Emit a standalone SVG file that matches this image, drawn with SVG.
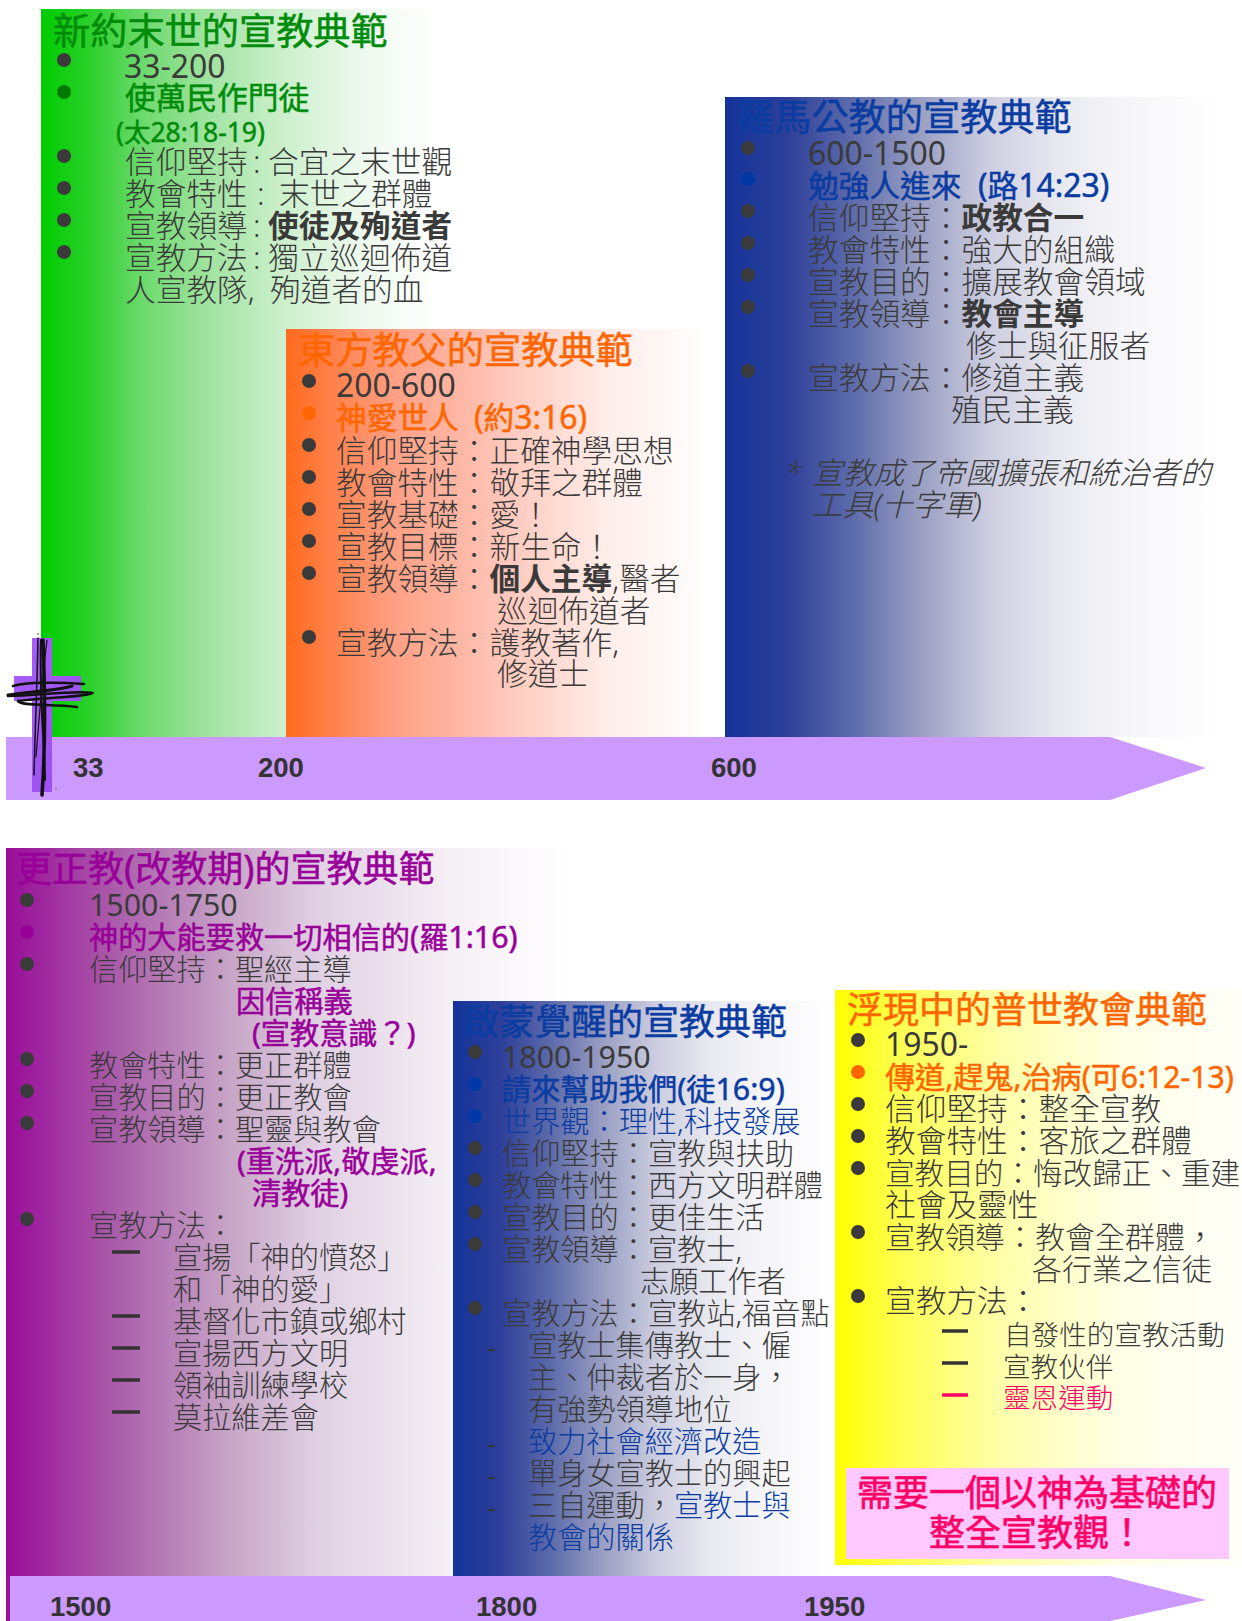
<svg xmlns="http://www.w3.org/2000/svg" width="1242" height="1621" viewBox="0 0 1242 1621">
<style>
text{font-family:"Noto Sans","Noto Sans CJK TC",sans-serif;font-size:30.7px;font-weight:300;fill:#3a3a3a;stroke-width:0}
.t{font-size:37.2px;font-weight:400;stroke-width:.5px}
.t2{font-size:36px}
.f{font-size:29.2px}
.y{font-size:30px}
.l{font-size:1.04em}
.w{font-weight:400}
.m{font-weight:400;stroke-width:.5px}
.b{font-weight:700;stroke-width:0}
.g{fill:#008c0a;stroke:#008c0a}.o{fill:#ff6600;stroke:#ff6600}.n{fill:#0a3ca2;stroke:#0a3ca2}.p{fill:#990099;stroke:#990099}.r{fill:#ff0066;stroke:#ff0066}
.ax{font-family:"Liberation Sans",Arial,sans-serif;font-size:27.5px;font-weight:700;fill:#333}
.s{font-size:27.6px}
.pk{font-size:36px;font-weight:400;fill:#ff0066;stroke:#ff0066;stroke-width:.6px;text-anchor:middle}
.d{stroke:#333;stroke-width:3.5}
.sc{fill:none;stroke:#111;stroke-linecap:round}
</style>
<defs>
<linearGradient id="gG" x1="0" y1="0" x2="1" y2="0"><stop offset="0" stop-color="#00cc00"/><stop offset=".12" stop-color="#2ad02a"/><stop offset=".26" stop-color="#6fda6f"/><stop offset=".43" stop-color="#a4e4a4"/><stop offset=".61" stop-color="#cdf0cd"/><stop offset=".8" stop-color="#eef9ee"/><stop offset="1" stop-color="#fff"/></linearGradient>
<linearGradient id="gO" x1="0" y1="0" x2="1" y2="0"><stop offset="0" stop-color="#ff6a1c"/><stop offset=".08" stop-color="#ff7b40"/><stop offset=".26" stop-color="#ffa085"/><stop offset=".52" stop-color="#ffc8bc"/><stop offset=".76" stop-color="#ffeeea"/><stop offset="1" stop-color="#fff"/></linearGradient>
<linearGradient id="gB" x1="0" y1="0" x2="1" y2="0"><stop offset="0" stop-color="#133399"/><stop offset=".125" stop-color="#2d3f9a"/><stop offset=".26" stop-color="#5e6cab"/><stop offset=".395" stop-color="#9a9fc3"/><stop offset=".53" stop-color="#cccde0"/><stop offset=".665" stop-color="#e7e7ef"/><stop offset=".8" stop-color="#f5f5f9"/><stop offset="1" stop-color="#fff"/></linearGradient>
<linearGradient id="gP" x1="0" y1="0" x2="1" y2="0"><stop offset="0" stop-color="#990c99"/><stop offset=".2" stop-color="#ab5fab"/><stop offset=".41" stop-color="#c9a9c9"/><stop offset=".55" stop-color="#e0d0e3"/><stop offset=".79" stop-color="#f5f0f5"/><stop offset="1" stop-color="#fff"/></linearGradient>
<linearGradient id="gY" x1="0" y1="0" x2="1" y2="0"><stop offset="0" stop-color="#ffff00"/><stop offset=".15" stop-color="#ffff4d"/><stop offset=".4" stop-color="#ffffa8"/><stop offset=".7" stop-color="#ffffe6"/><stop offset="1" stop-color="#fffff8"/></linearGradient>
<linearGradient id="gC" x1="0" y1="0" x2="1" y2="1"><stop offset="0" stop-color="#a85ff8"/><stop offset="1" stop-color="#9b4cf0"/></linearGradient>
</defs>

<g id="panel-purple">
<rect x="6" y="848" width="564" height="773" fill="url(#gP)"/>
<text class="t t2 p" x="16" y="882">更正教<tspan class="l">(</tspan>改教期<tspan class="l">)</tspan>的宣教典範</text>
<g transform="translate(-1 -1)">
<g fill="#3a3a3a"><circle cx="28" cy="901" r="7"/><circle cx="28" cy="933" r="7" fill="#990099"/><circle cx="28" cy="965" r="7"/><circle cx="28" cy="1060" r="7"/><circle cx="28" cy="1092" r="7"/><circle cx="28" cy="1124" r="7"/><circle cx="28" cy="1220" r="7"/></g>
<text class="f" x="90" y="917"><tspan class="l w">1500-1750</tspan></text>
<text class="f m p" x="90" y="949">神的大能要救一切相信的<tspan class="l">(</tspan>羅<tspan class="l">1:16)</tspan></text>
<text class="f" x="90" y="981">信仰堅持：聖經主導</text>
<text class="f m p" x="237" y="1013">因信稱義</text>
<text class="f m p" x="253" y="1045">(宣教意識？)</text>
<text class="f" x="90" y="1077">教會特性：更正群體</text>
<text class="f" x="90" y="1109">宣教目的：更正教會</text>
<text class="f" x="90" y="1141">宣教領導：聖靈與教會</text>
<text class="f m p" x="238" y="1173">(重洗派,敬虔派,</text>
<text class="f m p" x="253" y="1205">清教徒)</text>
<text class="f" x="90" y="1237">宣教方法：</text>
<text class="f" x="174" y="1269">宣揚「神的憤怒」</text>
<text class="f" x="174" y="1301">和「神的愛」</text>
<text class="f" x="174" y="1333">基督化市鎮或鄉村</text>
<text class="f" x="174" y="1365">宣揚西方文明</text>
<text class="f" x="174" y="1397">領袖訓練學校</text>
<text class="f" x="174" y="1429">莫拉維差會</text>
<g class="d"><line x1="113" x2="141" y1="1253" y2="1253"/><line x1="113" x2="141" y1="1317" y2="1317"/><line x1="113" x2="141" y1="1349" y2="1349"/><line x1="113" x2="141" y1="1381" y2="1381"/><line x1="113" x2="141" y1="1413" y2="1413"/></g>
</g>
</g>

<g id="panel-enlightenment">
<rect x="453" y="1001" width="382" height="576" fill="url(#gB)"/>
<text class="t t2 n" x="463" y="1035">啟蒙覺醒的宣教典範</text>
<g fill="#3a3a3a"><circle cx="475" cy="1052" r="7"/><circle cx="475" cy="1084" r="7" fill="#0039a6"/><circle cx="475" cy="1116" r="7" fill="#0039a6"/><circle cx="475" cy="1148" r="7"/><circle cx="475" cy="1180" r="7"/><circle cx="475" cy="1212" r="7"/><circle cx="475" cy="1244" r="7"/><circle cx="475" cy="1308" r="7"/></g>
<text class="f" x="502" y="1068"><tspan class="l w">1800-1950</tspan></text>
<text class="f m n" x="502" y="1100">請來幫助我們<tspan class="l">(</tspan>徒<tspan class="l">16:9)</tspan></text>
<text class="f n" x="502" y="1132">世界觀：理性,科技發展</text>
<text class="f" x="502" y="1164">信仰堅持：宣教與扶助</text>
<text class="f" x="502" y="1196">教會特性：西方文明群體</text>
<text class="f" x="502" y="1228">宣教目的：更佳生活</text>
<text class="f" x="502" y="1260">宣教領導：宣教士,</text>
<text class="f" x="640" y="1292">志願工作者</text>
<text class="f" x="502" y="1324">宣教方法：宣教站,福音點</text>
<text class="f" x="528" y="1356">宣教士集傳教士、僱</text>
<text class="f" x="528" y="1388">主、仲裁者於一身，</text>
<text class="f" x="528" y="1420">有強勢領導地位</text>
<text class="f n" x="528" y="1452">致力社會經濟改造</text>
<text class="f" x="528" y="1484">單身女宣教士的興起</text>
<text class="f" x="528" y="1516">三自運動，<tspan class="n">宣教士與</tspan></text>
<text class="f n" x="528" y="1548">教會的關係</text>
<g stroke="#333" stroke-width="2"><line x1="488" x2="495" y1="1350" y2="1350"/><line x1="488" x2="495" y1="1446" y2="1446"/><line x1="488" x2="495" y1="1478" y2="1478"/><line x1="488" x2="495" y1="1510" y2="1510"/></g>
</g>

<g id="panel-yellow">
<rect x="835" y="990" width="407" height="575" fill="url(#gY)"/>
<text class="t t2 o" x="847" y="1023">浮現中的普世教會典範</text>
<g fill="#3a3a3a"><circle cx="858" cy="1040" r="7"/><circle cx="858" cy="1072" r="7" fill="#ff6600"/><circle cx="858" cy="1104" r="7"/><circle cx="858" cy="1136" r="7"/><circle cx="858" cy="1168" r="7"/><circle cx="858" cy="1232" r="7"/><circle cx="858" cy="1296" r="7"/></g>
<text x="885" y="1056"><tspan class="l w">1950-</tspan></text>
<text class="m o" x="885" y="1088" style="font-size:30.1px">傳道,趕鬼,治病(可6:12-13)</text>
<text x="885" y="1120">信仰堅持：整全宣教</text>
<text x="885" y="1152">教會特性：客旅之群體</text>
<text x="885" y="1184" style="font-size:29.6px">宣教目的：悔改歸正、重建</text>
<text x="885" y="1216">社會及靈性</text>
<text class="y" x="885" y="1248">宣教領導：教會全群體，</text>
<text class="y" x="1032" y="1280">各行業之信徒</text>
<text x="885" y="1312">宣教方法：</text>
<text class="s" x="1004" y="1345">自發性的宣教活動</text>
<text class="s" x="1003" y="1377">宣教伙伴</text>
<text class="s r" x="1003" y="1408">靈恩運動</text>
<g class="d"><line x1="942" x2="968" y1="1331" y2="1331"/><line x1="942" x2="968" y1="1363" y2="1363"/><line x1="942" x2="968" y1="1395" y2="1395" stroke="#ff0066"/></g>
<rect x="846" y="1468" width="383" height="91" fill="#ffc8ff"/>
<text class="pk" x="1037" y="1506">需要一個以神為基礎的</text>
<text class="pk" x="1037" y="1546">整全宣教觀！</text>
</g>

<g id="panel-green">
<rect x="41" y="9" width="400" height="728" fill="url(#gG)"/>
<text class="t g" x="53" y="45">新約末世的宣教典範</text>
<g fill="#3a3a3a"><circle cx="64" cy="60" r="7"/><circle cx="64" cy="92" r="7" fill="#007a00"/><circle cx="64" cy="156" r="7"/><circle cx="64" cy="188" r="7"/><circle cx="64" cy="220" r="7"/><circle cx="64" cy="252" r="7"/></g>
<text x="124" y="78"><tspan class="l w">33-200</tspan></text>
<text class="m g" x="125" y="109">使萬民作門徒</text>
<text class="m g" x="116" y="142" style="font-size:26.5px">(太28:18-19)</text>
<text x="125" y="173">信仰堅持<tspan x="253">:</tspan><tspan x="268">合宜之末世觀</tspan></text>
<text x="125" y="205">教會特性<tspan x="257">:</tspan><tspan x="279">末世之群體</tspan></text>
<text x="125" y="237">宣教領導<tspan x="253">:</tspan><tspan x="268" class="b">使徒及殉道者</tspan></text>
<text x="125" y="269">宣教方法<tspan x="253">:</tspan><tspan x="268">獨立巡迴佈道</tspan></text>
<text x="125" y="301">人宣教隊,<tspan x="270">殉道者的血</tspan></text>
</g>

<g id="panel-orange">
<rect x="286" y="329" width="424" height="408" fill="url(#gO)"/>
<text class="t o" x="298" y="364">東方教父的宣教典範</text>
<g fill="#3a3a3a"><circle cx="309" cy="381" r="7"/><circle cx="309" cy="413" r="7" fill="#ff6600"/><circle cx="309" cy="445" r="7"/><circle cx="309" cy="477" r="7"/><circle cx="309" cy="509" r="7"/><circle cx="309" cy="541" r="7"/><circle cx="309" cy="573" r="7"/><circle cx="309" cy="637" r="7"/></g>
<text x="336" y="397"><tspan class="l w">200-600</tspan></text>
<text class="m o" x="336" y="429">神愛世人<tspan x="474" class="l">(</tspan>約<tspan class="l">3:16)</tspan></text>
<text x="336" y="462">信仰堅持：正確神學思想</text>
<text x="336" y="494">教會特性：敬拜之群體</text>
<text x="336" y="526">宣教基礎：愛！</text>
<text x="336" y="558">宣教目標：新生命！</text>
<text x="336" y="590">宣教領導：<tspan class="b">個人主導</tspan>,醫者</text>
<text x="497" y="622">巡迴佈道者</text>
<text x="336" y="654">宣教方法：護教著作,</text>
<text x="497" y="685">修道士</text>
</g>

<g id="panel-roman">
<rect x="725" y="97" width="495" height="640" fill="url(#gB)"/>
<text class="t n" x="737" y="131">羅馬公教的宣教典範</text>
<g fill="#3a3a3a"><circle cx="748" cy="148" r="7"/><circle cx="748" cy="179" r="7" fill="#0039a6"/><circle cx="748" cy="211" r="7"/><circle cx="748" cy="243" r="7"/><circle cx="748" cy="275" r="7"/><circle cx="748" cy="307" r="7"/><circle cx="748" cy="371" r="7"/></g>
<text x="808" y="165"><tspan class="l w">600-1500</tspan></text>
<text class="m n" x="808" y="197">勉強人進來<tspan x="978" class="l">(</tspan>路<tspan class="l">14:23)</tspan></text>
<text x="808" y="229">信仰堅持：<tspan class="b">政教合一</tspan></text>
<text x="808" y="261">教會特性：強大的組織</text>
<text x="808" y="293">宣教目的：擴展教會領域</text>
<text x="808" y="325">宣教領導：<tspan class="b">教會主導</tspan></text>
<text x="966" y="357">修士與征服者</text>
<text x="808" y="389">宣教方法：修道主義</text>
<text x="951" y="421">殖民主義</text>
<text x="785" y="484" font-style="italic">*</text>
<text x="812" y="484" font-style="italic">宣教成了帝國擴張和統治者的</text>
<text x="812" y="516" font-style="italic">工具(十字軍)</text>
</g>

<g id="timeline-top">
<polygon points="6,737 1110,737 1206,768 1110,800 6,800" fill="#cc99ff"/>
<text class="ax" x="73" y="777">33</text>
<text class="ax" x="258" y="777">200</text>
<text class="ax" x="711" y="777">600</text>
</g>
<g id="timeline-bottom">
<polygon points="10,1576 1110,1576 1206,1600 1110,1621 10,1621" fill="#cc99ff"/>
<text class="ax" x="50" y="1616">1500</text>
<text class="ax" x="476" y="1616">1800</text>
<text class="ax" x="804" y="1616">1950</text>
</g>

<g id="cross">
<path d="M32 638H52V676H81V701H52V792H32V701H14V676H32Z" fill="url(#gC)"/>
<g class="sc">
<path d="M38 638C37 690 35 730 34 775" stroke-width="1.5"/>
<path d="M43 640C45 690 46 740 42 795" stroke-width="3.5"/>
<path d="M47 640C41 690 39 720 36 757" stroke-width="1.2"/>
<path d="M41 640C39 700 45 750 45 780" stroke-width="2"/>
<path d="M13 686C25 682 60 682 84 684" stroke-width="2.5"/>
<path d="M8 695C30 692 60 690 72 686" stroke-width="3"/>
<path d="M8 696C40 695 80 690 92 693C88 697 50 697 18 701" stroke-width="2.5"/>
<path d="M18 701C20 706 50 704 77 707" stroke-width="2.5"/>
</g>
<circle cx="38" cy="634" r="1" fill="#888"/><circle cx="56" cy="789" r="1" fill="#888"/>
</g>
</svg>
